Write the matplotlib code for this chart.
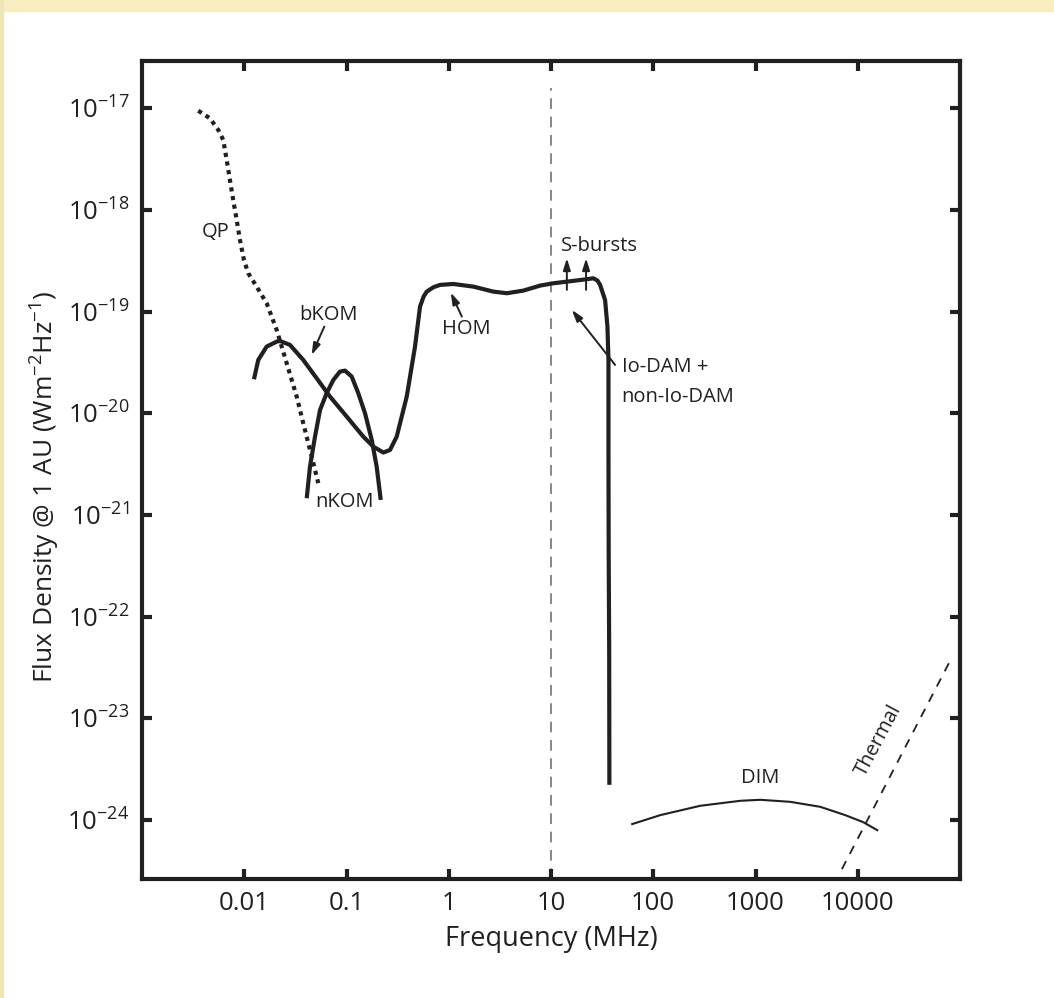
import matplotlib
matplotlib.use("Agg")
import matplotlib.pyplot as plt
import matplotlib.patches as mpatches
import numpy as np

plt.rcParams['font.family'] = ['Open Sans', 'DejaVu Sans']
plt.rcParams['mathtext.fontset'] = 'custom'
plt.rcParams['mathtext.rm'] = 'Open Sans'
plt.rcParams['mathtext.it'] = 'Open Sans'

INK = '#231f20'

# log10(frequency / MHz), log10(flux density / W m^-2 Hz^-1)
qp_logf = [-2.450, -2.336, -2.254, -2.205, -2.172, -2.140, -2.108, -2.074, -2.042,
           -2.003, -1.961, -1.879, -1.781, -1.683, -1.585, -1.487, -1.423, -1.340, -1.276]
qp_logs = [-17.024, -17.098, -17.213, -17.312, -17.508, -17.705, -17.902, -18.098, -18.295,
           -18.492, -18.622, -18.754, -18.917, -19.180, -19.507, -19.836, -20.097, -20.426, -20.687]

# bKOM -> HOM -> Io-DAM, one continuous trace
main_logf = [-1.905, -1.863, -1.781, -1.683, -1.651, -1.553, -1.423, -1.292, -1.161, -0.998,
             -0.836, -0.738, -0.640, -0.574, -0.509, -0.411, -0.330, -0.281, -0.245, -0.215, -0.150, -0.085,
             0.045, 0.241, 0.436, 0.568, 0.730, 0.893, 1.023, 1.155, 1.350, 1.415,
             1.455, 1.480, 1.529, 1.552, 1.562, 1.562, 1.564, 1.569, 1.571]
main_logs = [-19.665, -19.475, -19.344, -19.295, -19.288, -19.327, -19.475, -19.655, -19.836, -20.032,
             -20.229, -20.327, -20.386, -20.360, -20.229, -19.836, -19.344, -18.951, -18.850, -18.803, -18.760, -18.737,
             -18.728, -18.754, -18.803, -18.819, -18.793, -18.744, -18.721, -18.705, -18.681, -18.672,
             -18.695, -18.737, -18.885, -19.147, -19.475, -20.360, -21.343, -22.326, -23.654]

nkom_logf = [-1.389, -1.357, -1.308, -1.259, -1.194, -1.129, -1.064, -1.015, -0.949,
             -0.885, -0.819, -0.753, -0.705, -0.665]
nkom_logs = [-20.835, -20.524, -20.229, -19.967, -19.802, -19.672, -19.590, -19.580, -19.639,
             -19.802, -19.999, -20.262, -20.524, -20.852]

dim_logf = [1.794, 2.068, 2.459, 2.850, 3.046, 3.340, 3.633, 3.878, 4.054, 4.191]
dim_logs = [-24.040, -23.952, -23.860, -23.811, -23.801, -23.821, -23.870, -23.952, -24.021, -24.100]

thermal_logf = [3.845, 4.922]
thermal_logs = [-24.483, -22.398]

sburst_logf = [1.155, 1.343]
sburst_tail, sburst_tip = -18.786, -18.475

xticks = [0.01, 0.1, 1, 10, 100, 1000, 10000]
xticklabels = ['0.01', '0.1', '1', '10', '100', '1000', '10000']
yexps = [-24, -23, -22, -21, -20, -19, -18, -17]

p = lambda a: np.power(10.0, a)

fig = plt.figure(figsize=(10.54, 9.98), dpi=100)
fig.patches.append(mpatches.Rectangle((0, 1 - 11 / 998), 1, 11 / 998, transform=fig.transFigure,
                                      color='#f6edc0', zorder=0))
fig.patches.append(mpatches.Rectangle((0, 0), 3 / 1054, 1, transform=fig.transFigure,
                                      color='#efe6b8', zorder=0))

ax = fig.add_axes([142 / 1054, 1 - 879 / 998, 818 / 1054, 818 / 998])
ax.set_xscale('log')
ax.set_yscale('log')
ax.set_xlim(1e-3, 1e5)
ax.set_ylim(p(-24.58), p(-16.535))

# 10 MHz marker
ax.plot([10, 10], [p(-24.58), p(-16.8)], color='#666666', lw=1.1, dashes=(7, 5), zorder=1)

ax.plot(p(qp_logf), p(qp_logs), color=INK, lw=3.0, dashes=(1, 1.1), dash_capstyle='butt')
ax.plot(p(main_logf), p(main_logs), color=INK, lw=3.0, solid_joinstyle='round', solid_capstyle='butt')
ax.plot(p(nkom_logf), p(nkom_logs), color=INK, lw=3.0, solid_joinstyle='round', solid_capstyle='butt')
ax.plot(p(dim_logf), p(dim_logs), color=INK, lw=1.5)
ax.plot(p(thermal_logf), p(thermal_logs), color=INK, lw=1.3, dashes=(5, 4.5))

arrow = dict(arrowstyle='-|>,head_width=0.22,head_length=0.7', color=INK, lw=1.4, shrinkA=0, shrinkB=0)
for f in sburst_logf:
    ax.annotate('', xy=(p(f), p(sburst_tip)), xytext=(p(f), p(sburst_tail)), arrowprops=arrow)
ax.annotate('', xy=(p(1.204), p(-18.983)), xytext=(p(1.627), p(-19.524)), arrowprops=arrow)
ax.annotate('', xy=(p(0.020), p(-18.813)), xytext=(p(0.128), p(-19.049)), arrowprops=arrow)
ax.annotate('', xy=(p(-1.341), p(-19.426)), xytext=(p(-1.217), p(-19.147)), arrowprops=arrow)

fs = 14.5
ax.text(p(-2.284), p(-18.213), 'QP', fontsize=fs, color=INK, ha='center', va='center')
ax.text(p(-1.174), p(-19.032), 'bKOM', fontsize=fs, color=INK, ha='center', va='center')
ax.text(p(-1.018), p(-20.868), 'nKOM', fontsize=fs, color=INK, ha='center', va='center')
ax.text(p(0.172), p(-19.170), 'HOM', fontsize=fs, color=INK, ha='center', va='center')
ax.text(p(1.095), p(-18.354), 'S-bursts', fontsize=fs, color=INK, ha='left', va='center')
ax.text(p(1.69), p(-19.45), 'Io-DAM +\nnon-Io-DAM', fontsize=fs, color=INK, ha='left', va='top',
        linespacing=1.65)
ax.text(p(3.046), p(-23.585), 'DIM', fontsize=fs, color=INK, ha='center', va='center')
ax.text(p(4.204), p(-23.211), 'Thermal', fontsize=fs, color=INK, ha='center', va='center', rotation=62)

ax.set_xticks(xticks)
ax.set_xticklabels(xticklabels)
ax.set_yticks([p(e) for e in yexps])
ax.set_yticklabels([r'10$^{\mathregular{%d}}$' % e for e in yexps])
ax.minorticks_off()
ax.tick_params(which='major', direction='in', length=7.5, width=3, colors=INK,
               top=True, right=True, labelsize=18.5, labelcolor=INK)
ax.tick_params(axis='x', pad=9)
ax.tick_params(axis='y', pad=9)
for s in ax.spines.values():
    s.set_linewidth(3)
    s.set_color(INK)

ax.set_xlabel('Frequency (MHz)', fontsize=19.5, color=INK)
ax.set_ylabel(r'Flux Density @ 1 AU (Wm$^{\mathregular{-2}}$Hz$^{\mathregular{-1}}$)', fontsize=19, color=INK)
ax.xaxis.set_label_coords(0.5, -0.056)
ax.yaxis.set_label_coords(-0.098, 0.48)

fig.savefig('out.png', dpi=100, facecolor='white')
